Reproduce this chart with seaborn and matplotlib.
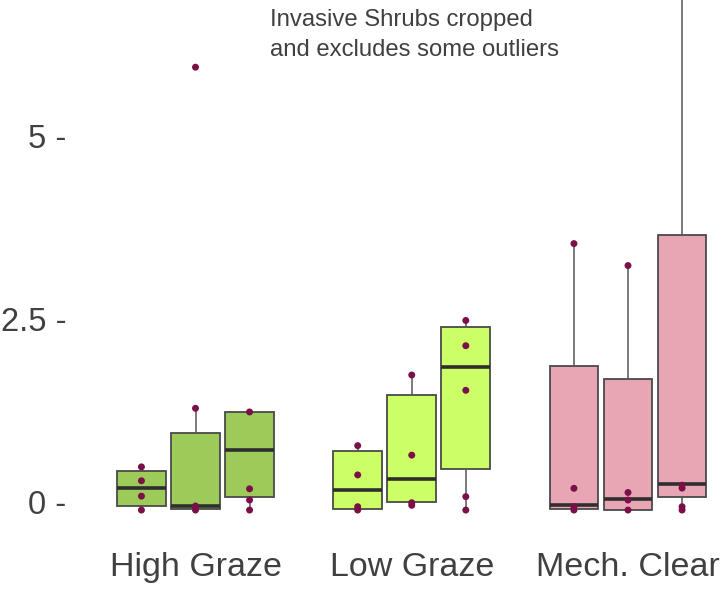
import numpy as np
import pandas as pd
import matplotlib
matplotlib.use("Agg")
import matplotlib.pyplot as plt
import seaborn as sns

# ---------------- data ----------------
groups = ["High Graze", "Low Graze", "Mech. Clear"]
subgroups = ["Survey 1", "Survey 2", "Survey 3"]

# five-number summaries per box (min whisker, Q1, median, Q3, max whisker)
hg_box = [[-0.11, -0.06, 0.195, 0.43, 0.48],
          [-0.11, -0.09, -0.055, 0.947, 1.28],
          [-0.11, 0.07, 0.71, 1.23, 1.23]]
lg_box = [[-0.11, -0.096, 0.17, 0.69, 0.77],
          [-0.045, -0.004, 0.31, 1.46, 1.735],
          [-0.11, 0.447, 1.844, 2.395, 2.48]]
mc_box = [[-0.11, -0.09, -0.045, 1.86, 3.53],
          [-0.11, -0.11, 0.037, 1.68, 3.23],
          [-0.11, 0.064, 0.246, 3.65, 8.5]]

# observed points per box
hg_pts = [[-0.11, 0.08, 0.29, 0.48],
          [-0.11, -0.055, 1.28, 5.94],
          [-0.11, 0.027, 0.18, 1.23]]
lg_pts = [[-0.11, -0.064, 0.37, 0.77],
          [-0.045, -0.01, 0.64, 1.735],
          [-0.11, 0.073, 1.526, 2.135, 2.48]]
mc_pts = [[-0.11, -0.064, 0.187, 3.53],
          [-0.11, 0.027, 0.13, 3.23],
          [-0.11, -0.064, 0.19, 0.23]]

group_colors = ["#9dcb5a", "#ccff66", "#e8a6b5"]
point_color = "#7b1048"
y_ticks = [0, 2.5, 5]
y_ticklabels = ["0 -", "2.5 -", "5 -"]
note = "Invasive Shrubs cropped\nand excludes some outliers"


def to_long(blocks):
    rows = []
    for g, per_sub in zip(groups, blocks):
        for s, vals in zip(subgroups, per_sub):
            for v in vals:
                rows.append({"group": g, "sub": s, "value": v})
    return pd.DataFrame(rows)


box_df = to_long([hg_box, lg_box, mc_box])
pts_df = to_long([hg_pts, lg_pts, mc_pts])

# ---------------- plot ----------------
sns.set_style("white")
plt.rcParams["font.family"] = ["Liberation Sans", "DejaVu Sans"]
text_color = "#404040"

fig = plt.figure(figsize=(7.25, 6.02), dpi=100)
ax = fig.add_axes([75 / 725, 72 / 602, 650 / 725, 530 / 602])

BOX_WIDTH = 0.75
for g, col in zip(groups, group_colors):
    sns.boxplot(
        data=box_df[box_df["group"] == g], x="group", y="value",
        hue="sub", order=groups, hue_order=subgroups,
        palette={s: col for s in subgroups}, saturation=1,
        width=BOX_WIDTH, gap=0.1, dodge=True, showfliers=False,
        linecolor="#4a4a4a", linewidth=1.3,
        medianprops={"color": "#2e2e2e", "linewidth": 2.6},
        whiskerprops={"color": "#555555", "linewidth": 1.1},
        capprops={"linewidth": 0},
        legend=False, ax=ax,
    )

n_before = len(ax.collections)
sns.stripplot(
    data=pts_df, x="group", y="value", hue="sub",
    order=groups, hue_order=subgroups,
    palette={s: point_color for s in subgroups},
    dodge=True, jitter=False, size=5.0, linewidth=0,
    legend=False, ax=ax, zorder=5,
)
# stripplot dodges with a fixed 0.8 width; rescale to the boxplot width
for coll in ax.collections[n_before:]:
    off = coll.get_offsets()
    if len(off):
        base = np.round(off[:, 0])
        off[:, 0] = base + (off[:, 0] - base) * BOX_WIDTH / 0.8
        coll.set_offsets(off)

ax.set_xlim(-(195.5 - 75) / 216.25, 2 + (725 - 628) / 216.25)
ax.set_ylim((502 - 530) / 73.2, 502 / 73.2)

ax.set_yticks(y_ticks)
ax.set_yticklabels(y_ticklabels)
ax.tick_params(axis="y", length=0, pad=6, labelsize=23.5, labelcolor=text_color)
ax.tick_params(axis="x", length=0, pad=16, labelsize=24.5, labelcolor=text_color)
ax.set_xlabel("")
ax.set_ylabel("")
for sp in ax.spines.values():
    sp.set_visible(False)
ax.grid(False)

fig.text(270 / 725, 1 - 9 / 602, note, ha="left", va="top",
         fontsize=17.2, color=text_color, linespacing=1.45)

fig.savefig("out.png", dpi=100, facecolor="white")
